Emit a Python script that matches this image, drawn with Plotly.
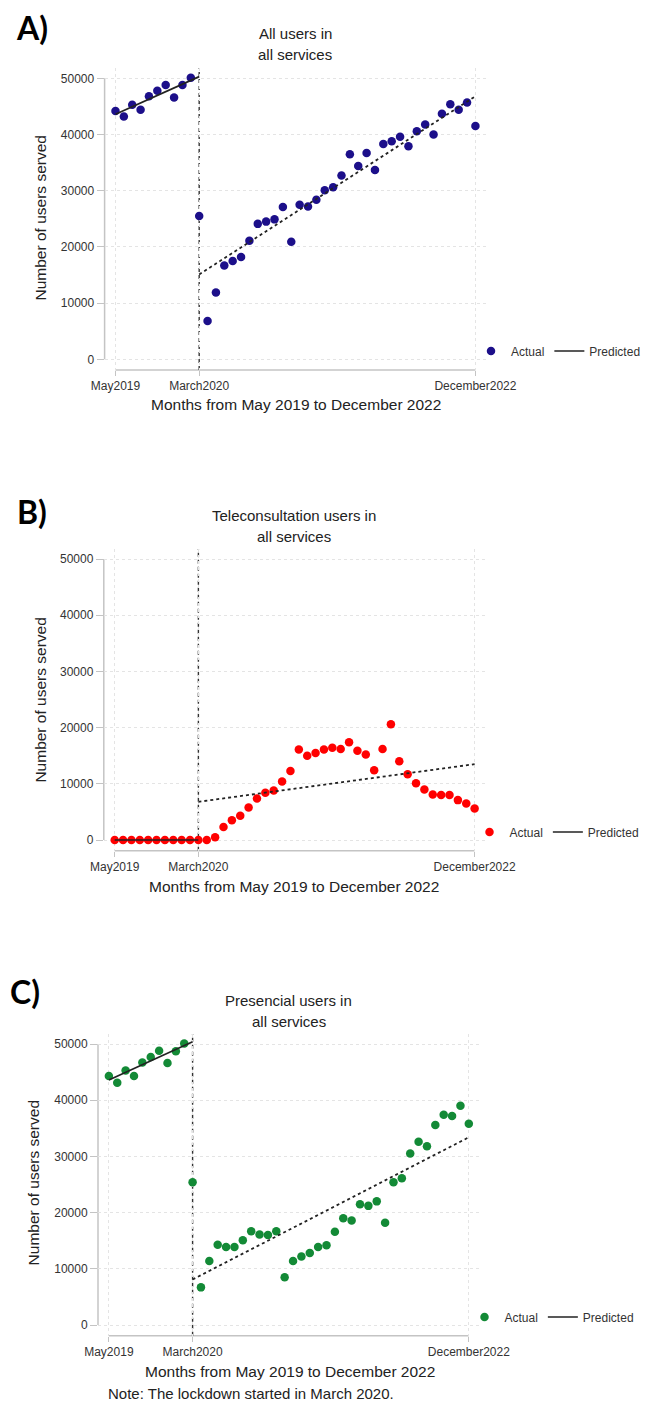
import plotly.graph_objects as go

# ---------------- data ----------------
month_index = list(range(44))            # 0 = May 2019 ... 43 = December 2022
lockdown_index = 10                      # March 2020
x_tick_vals = [0, 10, 43]
x_tick_text = ["May2019", "March2020", "December2022"]
y_tick_vals = [0, 10000, 20000, 30000, 40000, 50000]
y_tick_text = ["0", "10000", "20000", "30000", "40000", "50000"]

actual_all = [44200, 43200, 45300, 44400, 46800, 47800, 48800, 46600, 48800, 50100,
              25500, 6800, 11900, 16700, 17500, 18200, 21100, 24100, 24500, 24900,
              27100, 20900, 27500, 27200, 28400, 30100, 30600, 32700, 36500, 34400,
              36700, 33700, 38300, 38800, 39600, 37900, 40600, 41800, 40000, 43700,
              45400, 44400, 45700, 41500]
actual_tele = [0, 0, 0, 0, 0, 0, 0, 0, 0, 0,
               0, 0, 500, 2300, 3500, 4300, 5800, 7400, 8400, 8800,
               10400, 12300, 16100, 15000, 15500, 16100, 16400, 16200, 17400, 15900,
               15200, 12400, 16200, 20600, 14000, 11700, 10100, 9000, 8100, 8000,
               8000, 7100, 6500, 5600]
actual_pres = [44300, 43100, 45300, 44300, 46700, 47700, 48800, 46600, 48700, 50100,
               25400, 6700, 11400, 14300, 13900, 13900, 15100, 16700, 16100, 16000,
               16700, 8500, 11400, 12200, 12800, 13900, 14200, 16600, 19000, 18600,
               21500, 21200, 22000, 18200, 25400, 26100, 30500, 32600, 31800, 35600,
               37400, 37200, 39000, 35800]

pred_pre_x = [0, 10]
pred_post_x = [10, 43]
pred_pre_all = [43600, 50300]
pred_post_all = [15100, 46800]
pred_pre_tele = [0, 0]
pred_post_tele = [6800, 13500]
pred_pre_pres = [43600, 50400]
pred_post_pres = [8100, 33400]

titles = ["All users in<br>all services",
          "Teleconsultation users in<br>all services",
          "Presencial users in<br>all services"]
panel_labels = ["A)", "B)", "C)"]
y_title = "Number of users served"
x_title = "Months from May 2019 to December 2022"
note = "Note: The lockdown started in March 2020."

series = [
    (actual_all, pred_pre_all, pred_post_all, "#1c0f8a"),
    (actual_tele, pred_pre_tele, pred_post_tele, "#ff0000"),
    (actual_pres, pred_pre_pres, pred_post_pres, "#138a36"),
]

# ---------------- layout helpers (pixel geometry) ----------------
W, H = 654, 1405
OFF = 8   # page body margin
FONT = "Liberation Sans, Arial, Helvetica, sans-serif"

def fx(p):
    return (p - OFF) / W

def fy(p):
    return 1 - (p - OFF) / H

geo = [
    dict(l=104.6, r=486.3, t=68.3, b=370.0, tx=295, ty=[34, 55], ytx=40.5, yty=218,
         xtx=295.5, xty=405, lx=14, ly=28, legy=351, legx=471),
    dict(l=103.8, r=485.5, t=549.0, b=850.7, tx=294, ty=[515.7, 536.7], ytx=39.6, yty=700,
         xtx=294, xty=886, lx=15, ly=511, legx=469.5, legy=832),
    dict(l=98.0, r=479.7, t=1034.0, b=1335.7, tx=288.6, ty=[1000, 1021], ytx=33.4, yty=1183,
         xtx=289.5, xty=1371, lx=8, ly=991, legx=464.5, legy=1317),
]

fig = go.Figure()
layout = dict(width=W, height=H, autosize=False,
              margin=dict(l=0, r=0, t=0, b=0, autoexpand=False),
              paper_bgcolor="white", plot_bgcolor="white",
              font=dict(family=FONT, color="#333333"),
              annotations=[], shapes=[])

AX_COL = "#c4c4c4"
GRID_COL = "#e4e4e4"

for i, (actual, pre, post, col) in enumerate(series):
    sfx = "" if i == 0 else str(i + 1)
    xa, ya = "x" + sfx, "y" + sfx
    leg = "legend" if i == 0 else "legend" + str(i + 1)
    g = geo[i]

    fig.add_trace(go.Scatter(x=month_index, y=actual, mode="markers", name="Actual",
                             marker=dict(size=8.5, color=col), xaxis=xa, yaxis=ya,
                             legend=leg, hoverinfo="x+y"))
    fig.add_trace(go.Scatter(x=pred_pre_x, y=pre, mode="lines", name="Predicted",
                             line=dict(color="#222222", width=1.7), xaxis=xa, yaxis=ya,
                             legend=leg))
    fig.add_trace(go.Scatter(x=pred_post_x, y=post, mode="lines", name="Predicted",
                             line=dict(color="#222222", width=1.8, dash="dot"),
                             xaxis=xa, yaxis=ya, legend=leg, showlegend=False))

    layout["xaxis" + sfx] = dict(
        domain=[fx(g["l"]), fx(g["r"])], range=[-1.3, 44.3], anchor=ya,
        tickmode="array", tickvals=x_tick_vals, ticktext=x_tick_text,
        ticks="outside", ticklen=5, tickcolor=AX_COL, tickwidth=1.2,
        tickfont=dict(size=12, color="#333333", family=FONT),
        showgrid=True, gridcolor=GRID_COL, griddash="dot", gridwidth=1.2,
        zeroline=False, showline=False, automargin=False)
    layout["yaxis" + sfx] = dict(
        domain=[fy(g["b"]), fy(g["t"])], range=[-1900, 51780], anchor=xa,
        tickmode="array", tickvals=y_tick_vals, ticktext=y_tick_text,
        ticks="outside", ticklen=7, tickcolor=AX_COL, tickwidth=1.2,
        tickfont=dict(size=12, color="#333333", family=FONT),
        showgrid=True, gridcolor=GRID_COL, griddash="dot", gridwidth=1.2,
        zeroline=False, showline=False, automargin=False)

    # range-frame axis lines
    layout["shapes"].append(dict(type="line", xref=xa + " domain", yref=ya,
                                 x0=0, x1=0, y0=min(y_tick_vals), y1=max(y_tick_vals),
                                 line=dict(color=AX_COL, width=1.5), layer="below"))
    layout["shapes"].append(dict(type="line", xref=xa, yref=ya + " domain",
                                 x0=min(x_tick_vals), x1=max(x_tick_vals), y0=0, y1=0,
                                 line=dict(color=AX_COL, width=1.5), layer="below"))
    # lockdown line
    layout["shapes"].append(dict(type="line", xref=xa, yref=ya + " domain",
                                 x0=lockdown_index, x1=lockdown_index, y0=0, y1=1,
                                 line=dict(color="#333333", width=1.4, dash="4px,3px"),
                                 layer="below"))

    # title
    t1, t2 = titles[i].split("<br>")
    for txt, yy in zip([t1, t2], g["ty"]):
        layout["annotations"].append(dict(text=txt, xref="paper", yref="paper",
                                          x=fx(g["tx"]), y=fy(yy), xanchor="center",
                                          yanchor="middle", showarrow=False,
                                          font=dict(size=15, color="#222222", family=FONT)))
    # y title
    layout["annotations"].append(dict(text=y_title, xref="paper", yref="paper",
                                      x=fx(g["ytx"]), y=fy(g["yty"]), textangle=-90,
                                      xanchor="center", yanchor="middle", showarrow=False,
                                      font=dict(size=15.5, color="#222222", family=FONT)))
    # x title
    layout["annotations"].append(dict(text=x_title, xref="paper", yref="paper",
                                      x=fx(g["xtx"]), y=fy(g["xty"]),
                                      xanchor="center", yanchor="middle", showarrow=False,
                                      font=dict(size=15.5, color="#222222", family=FONT)))
    # panel label
    layout["annotations"].append(dict(text="<b>" + panel_labels[i] + "</b>", xref="paper",
                                      yref="paper", x=fx(g["lx"]), y=fy(g["ly"]),
                                      xanchor="left", yanchor="middle", showarrow=False,
                                      font=dict(size=32, color="#000000",
                                                family="Lato, Open Sans, sans-serif")))
    # legend
    layout[leg] = dict(orientation="h", x=fx(g["legx"]), y=fy(g["legy"]),
                       xanchor="left", yanchor="middle", bgcolor="rgba(0,0,0,0)",
                       font=dict(size=12, color="#333333", family=FONT),
                       itemwidth=30, tracegroupgap=0)

layout["annotations"].append(dict(text=note, xref="paper", yref="paper",
                                  x=fx(251), y=fy(1393), xanchor="center", yanchor="middle",
                                  showarrow=False,
                                  font=dict(size=15, color="#222222", family=FONT)))

fig.update_layout(**layout)
fig.write_html("out.html")
